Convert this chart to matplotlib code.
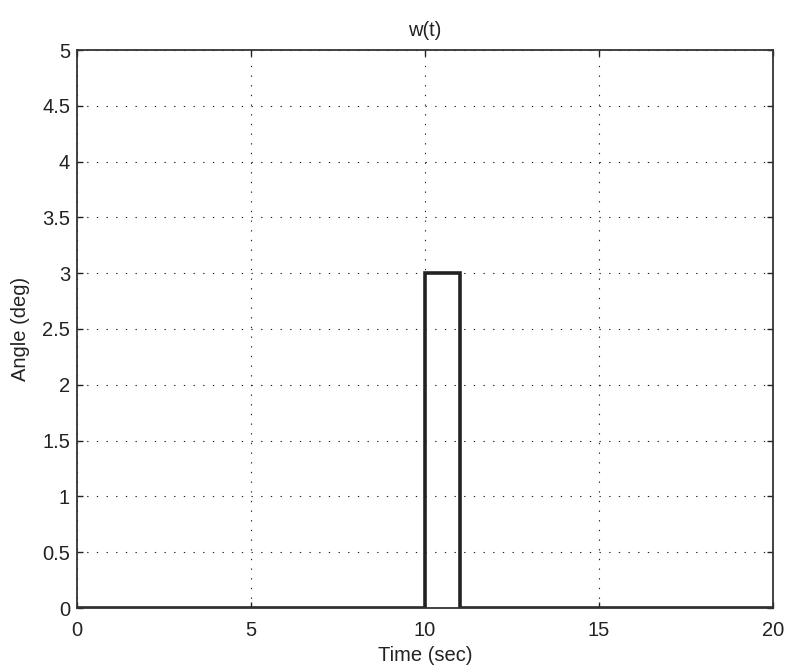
import matplotlib
matplotlib.use("Agg")
import matplotlib.pyplot as plt

# Data
time_sec = [0, 10, 10, 11, 11, 20]
angle_deg = [0, 0, 3, 3, 0, 0]
x_ticks = [0, 5, 10, 15, 20]
y_ticks = [0, 0.5, 1, 1.5, 2, 2.5, 3, 3.5, 4, 4.5, 5]
y_tick_labels = ["0", "0.5", "1", "1.5", "2", "2.5", "3", "3.5", "4", "4.5", "5"]

plt.rcParams['font.family'] = ['Liberation Sans', 'DejaVu Sans']

fig = plt.figure(figsize=(7.89, 6.66), dpi=100)
ax = fig.add_axes([77/789, 1-608/666, (773-77)/789, (608-50)/666])

ax.plot(time_sec, angle_deg, color='#222222', lw=2.6, solid_joinstyle='miter')

ax.set_xlim(0, 20)
ax.set_ylim(0, 5)
ax.set_xticks(x_ticks)
ax.set_xticklabels([str(v) for v in x_ticks])
ax.set_yticks(y_ticks)
ax.set_yticklabels(y_tick_labels)

ax.grid(True, color='#222222', lw=0.8, linestyle=(0, (1.2, 7.5)))
ax.tick_params(direction='in', length=4, width=1, color='#222222',
               top=True, right=True, labelsize=14.5, labelcolor='#222222')
ax.tick_params(axis='x', pad=9.5)
ax.tick_params(axis='y', pad=5)
for sp in ax.spines.values():
    sp.set_linewidth(1.3)
    sp.set_color('#333333')

ax.set_title('w(t)', fontsize=14.5, color='#222222', pad=10)
ax.set_xlabel('Time (sec)', fontsize=14.5, color='#222222', labelpad=4)
ax.set_ylabel('Angle (deg)', fontsize=14.5, color='#222222', labelpad=9)

fig.savefig('out.png', dpi=100)
